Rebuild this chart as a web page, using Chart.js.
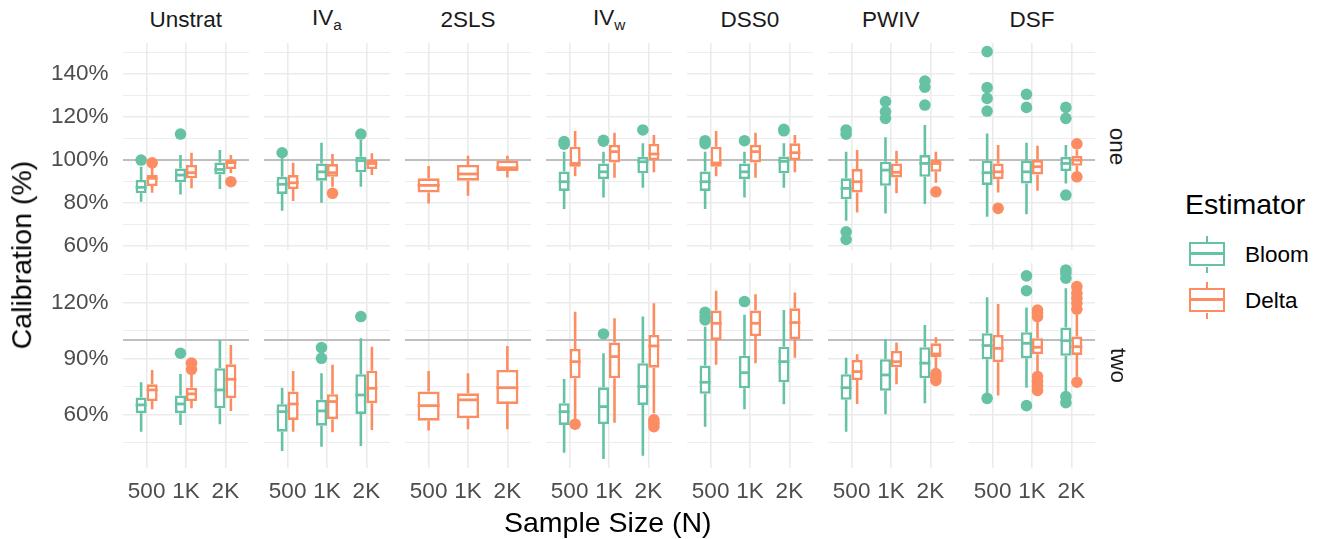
<!DOCTYPE html>
<html>
<head>
<meta charset="utf-8">
<script src="https://cdn.jsdelivr.net/npm/chart.js@4.4.1/dist/chart.umd.min.js"></script>
<style>
  body { margin: 0; width: 1327px; height: 539px; position: relative; overflow: hidden; background: #fff;
         font-family: "Liberation Sans", Arial, sans-serif; }
  canvas { position: absolute; }
  .txt { position: absolute; white-space: nowrap; line-height: 1.2; }
  .txt sub { font-size: 0.68em; vertical-align: -0.3em; }
  .key { position: absolute; width: 36px; height: 24px; box-sizing: border-box; border: 2.5px solid; background: #fff; }
  .key .med { position: absolute; left: 0; right: 0; top: 8px; height: 2.5px; }
  .key .wt, .key .wb { position: absolute; left: 14.5px; width: 2.5px; height: 6px; }
  .key .wt { top: -8.5px; }
  .key .wb { bottom: -8.5px; }
</style>
</head>
<body>
<script>
const FONT = '"Liberation Sans", Arial, sans-serif';
Chart.defaults.font.family = FONT;

const panelNames = ['Unstrat', 'IV_a', '2SLS', 'IV_w', 'DSS0', 'PWIV', 'DSF'];
const rowNames = ['one', 'two'];
const sizeLabels = ['500', '1K', '2K'];
const estimators = ['Bloom', 'Delta'];
const estimatorColors = ['#66c2a5', '#fc8d62'];

const yTicksOne = [60, 70, 80, 90, 100, 110, 120, 130, 140, 150];
const yLabelsOne = [60, 80, 100, 120, 140];
const yTicksTwo = [45, 60, 75, 90, 105, 120, 135];
const yLabelsTwo = [60, 90, 120];
const yRangeOne = [58.1, 154.5];
const yRangeTwo = [31.6, 141.1];

// each box: [lower whisker, q1, median, q3, upper whisker] for 500 / 1K / 2K
const bloomOne = [
  [[80.6, 84.5, 87.3, 90.7, 96.9], [84.0, 89.6, 93.0, 96.1, 102.3], [86.5, 93.3, 95.6, 98.9, 104.7]],
  [[76.4, 84.2, 88.7, 92.2, 101.5], [80.1, 90.4, 94.5, 98.4, 108.1], [87.6, 94.3, 99.7, 101.5, 109.3]],
  null,
  [[77.2, 85.6, 89.9, 94.6, 103.9], [82.6, 91.1, 94.5, 98.4, 103.9], [87.1, 93.8, 99.2, 101.5, 107.8]],
  [[77.2, 85.6, 89.9, 94.6, 103.9], [82.6, 91.1, 94.5, 98.4, 103.9], [87.1, 93.8, 99.4, 101.6, 107.8]],
  [[71.7, 81.7, 86.8, 91.5, 103.9], [75.1, 88.0, 95.3, 99.2, 110.6], [79.5, 92.2, 98.4, 102.3, 116.3]],
  [[73.6, 88.4, 94.1, 99.7, 112.4], [74.7, 89.1, 94.5, 99.7, 108.1], [89.1, 94.9, 98.4, 101.5, 107.0]]
];
const bloomOneOut = [
  [[100], [112.1], []],
  [[103.4], [], [112.1]],
  null,
  [[107.4, 108.6], [108.8, 109.2], [114.0]],
  [[107.6, 109.0], [109.0], [113.6, 114.3]],
  [[112.0, 114.0, 66.6, 63.0], [119.4, 122.5, 127.2], [125.6, 133.9, 136.8]],
  [[122.8, 128.7, 133.7, 150.5], [124.5, 130.6], [119.4, 124.5, 83.7]]
];
const deltaOne = [
  [[84.8, 87.9, 91.5, 93.0, 96.9], [86.8, 91.5, 94.1, 97.7, 103.4], [94.0, 95.8, 98.8, 100.1, 102.3]],
  [[80.9, 86.5, 89.4, 93.0, 98.7], [87.6, 92.2, 94.1, 98.1, 102.8], [93.0, 95.8, 98.4, 100.0, 103.1]],
  [[79.8, 84.9, 88.2, 91.5, 97.2], [83.4, 90.4, 93.5, 97.7, 102.0], [91.9, 94.9, 96.4, 99.7, 102.0]],
  [[92.5, 96.9, 98.4, 106.2, 113.5], [91.8, 98.9, 103.9, 107.0, 112.7], [94.3, 100.0, 102.8, 107.5, 111.6]],
  [[92.5, 96.9, 98.6, 106.2, 113.5], [91.8, 98.9, 103.9, 107.0, 112.7], [94.3, 100.0, 103.4, 107.8, 111.6]],
  [[75.6, 84.9, 89.9, 95.8, 104.7], [84.5, 91.9, 94.3, 98.4, 104.3], [89.4, 94.5, 98.4, 100.0, 103.9]],
  [[84.9, 91.1, 94.5, 98.4, 107.0], [85.7, 93.3, 96.9, 100.0, 106.7], [94.5, 97.3, 100.0, 102.0, 104.7]]
];
const deltaOneOut = [
  [[98.7], [], [89.9]],
  [[], [84.5], []],
  [[], [], []],
  [[], [], []],
  [[], [], []],
  [[], [], [85.2]],
  [[77.5], [], [107.5, 92.2]]
];

const bloomTwo = [
  [[51.0, 60.9, 65.3, 69.2, 77.4], [54.6, 60.9, 65.8, 70.3, 81.8], [55.0, 63.5, 73.3, 84.9, 100.0]],
  [[40.7, 51.0, 61.7, 65.7, 74.5], [43.0, 54.2, 62.1, 68.0, 82.2], [43.4, 60.5, 70.6, 81.7, 100.9]],
  null,
  [[39.8, 54.6, 61.7, 66.2, 79.2], [36.4, 55.1, 64.4, 74.7, 92.9], [38.1, 65.3, 75.1, 87.6, 112.5]],
  [[53.7, 71.2, 77.4, 86.3, 107.1], [63.0, 74.2, 82.5, 91.6, 113.4], [65.7, 77.4, 88.4, 96.4, 116.0]],
  [[51.0, 68.0, 74.5, 81.7, 90.5], [60.3, 72.8, 81.3, 89.7, 100.4], [66.2, 79.5, 87.6, 96.1, 108.0]],
  [[71.5, 89.7, 97.0, 103.6, 122.8], [74.5, 90.2, 98.2, 104.1, 117.3], [72.4, 91.5, 99.6, 106.6, 127.6]]
];
const bloomTwoOut = [
  [[], [92.9], []],
  [[], [90.2, 95.9], [112.5]],
  null,
  [[], [103.2], []],
  [[110.7, 112.5, 114.8], [120.5], []],
  [[], [], []],
  [[68.8], [64.9, 126.3, 134.2], [66.5, 69.7, 133.0, 135.6, 137.4]]
];
const deltaTwo = [
  [[63.0, 67.4, 73.3, 76.3, 84.0], [63.5, 67.4, 71.2, 74.5, 82.5], [62.1, 68.9, 79.0, 87.0, 97.3]],
  [[51.0, 57.3, 65.8, 72.4, 83.4], [50.7, 57.7, 67.1, 71.0, 86.7], [51.9, 66.2, 74.2, 83.6, 96.4]],
  [[51.6, 56.9, 64.9, 72.4, 83.4], [52.3, 58.2, 68.0, 71.5, 82.2], [52.3, 65.8, 74.5, 84.0, 96.8]],
  [[56.5, 79.5, 88.4, 95.2, 115.1], [55.8, 79.5, 91.1, 98.6, 111.6], [60.9, 85.2, 96.8, 102.7, 119.6]],
  [[86.7, 100.0, 108.9, 115.7, 126.3], [87.6, 102.1, 108.9, 115.7, 124.4], [90.5, 100.5, 109.3, 116.9, 125.3]],
  [[65.8, 78.6, 83.1, 89.3, 92.4], [76.3, 85.4, 88.4, 94.1, 98.6], [84.0, 90.8, 92.5, 98.2, 101.4]],
  [[70.3, 88.1, 95.5, 102.7, 119.2], [83.1, 92.4, 96.1, 100.9, 110.7], [80.4, 92.0, 96.4, 101.8, 113.4]]
];
const deltaTwoOut = [
  [[], [84.3, 87.6], []],
  [[], [], []],
  [[], [], []],
  [[55.0], [], [53.7, 55.5, 57.3]],
  [[], [], []],
  [[], [], [78.4, 80.2, 82.0]],
  [[], [73.0, 75.5, 78.0, 80.5, 112.5, 114.5, 116.0], [77.4, 116.4, 119.6, 122.3, 124.9, 128.5]]
];

// layout of the facet grid
const PANEL_X0 = 123, PANEL_STEP = 141, PANEL_W = 126;
const ROW_TOP = [43, 263], ROW_H = [207, 205];
const LINE_W = 2.6;

function addText(html, opts) {
  const el = document.createElement('div');
  el.className = 'txt';
  el.innerHTML = html;
  el.style.fontSize = opts.size + 'px';
  el.style.color = opts.color || '#000';
  document.body.appendChild(el);
  const w = el.offsetWidth, h = el.offsetHeight;
  const left = opts.align === 'left' ? opts.x : opts.x - w / 2;
  el.style.left = left + 'px';
  el.style.top = (opts.y - h / 2) + 'px';
  if (opts.rotate) el.style.transform = 'rotate(' + opts.rotate + 'deg)';
  return el;
}

const boxPlugin = {
  id: 'boxes',
  beforeDatasetsDraw(chart) {
    const { ctx, chartArea, scales: { y } } = chart;
    ctx.save();
    ctx.strokeStyle = '#bebebe';
    ctx.lineWidth = 2;
    const ref = y.getPixelForValue(100);
    ctx.beginPath();
    ctx.moveTo(chartArea.left, ref);
    ctx.lineTo(chartArea.right, ref);
    ctx.stroke();

    chart.data.datasets.forEach((ds, i) => {
      ctx.strokeStyle = ds.borderColor;
      ctx.lineWidth = LINE_W;
      chart.getDatasetMeta(i).data.forEach((bar, j) => {
        const s = ds.stats[j];
        ctx.beginPath();
        ctx.moveTo(bar.x, y.getPixelForValue(s[0]));
        ctx.lineTo(bar.x, y.getPixelForValue(s[1]));
        ctx.moveTo(bar.x, y.getPixelForValue(s[3]));
        ctx.lineTo(bar.x, y.getPixelForValue(s[4]));
        ctx.stroke();
      });
    });
    ctx.restore();
  },
  afterDatasetsDraw(chart) {
    const { ctx, scales: { y } } = chart;
    ctx.save();
    chart.data.datasets.forEach((ds, i) => {
      chart.getDatasetMeta(i).data.forEach((bar, j) => {
        const s = ds.stats[j];
        const my = y.getPixelForValue(s[2]);
        ctx.strokeStyle = ds.borderColor;
        ctx.lineWidth = 2.8;
        ctx.beginPath();
        ctx.moveTo(bar.x - bar.width / 2, my);
        ctx.lineTo(bar.x + bar.width / 2, my);
        ctx.stroke();
        ctx.fillStyle = ds.borderColor;
        ds.outliers[j].forEach(v => {
          ctx.beginPath();
          ctx.arc(bar.x, y.getPixelForValue(v), 5.8, 0, Math.PI * 2);
          ctx.fill();
        });
      });
    });
    ctx.restore();
  }
};

function makePanel(row, col) {
  const isLeft = col === 0, isBottom = row === 1;
  const left = PANEL_X0 + col * PANEL_STEP;
  const padL = isLeft ? left : 0;
  // room under the panel for x labels, or for the lowest y label of the top-left panel
  const padB = isBottom ? 40 : (isLeft ? 16 : 0);
  const canvas = document.createElement('canvas');
  canvas.width = PANEL_W + padL;
  canvas.height = ROW_H[row] + padB;
  canvas.style.left = (left - padL) + 'px';
  canvas.style.top = ROW_TOP[row] + 'px';
  document.body.appendChild(canvas);

  const statSets = row === 0 ? [bloomOne, deltaOne] : [bloomTwo, deltaTwo];
  const outSets = row === 0 ? [bloomOneOut, deltaOneOut] : [bloomTwoOut, deltaTwoOut];
  const yTicks = row === 0 ? yTicksOne : yTicksTwo;
  const yLabels = row === 0 ? yLabelsOne : yLabelsTwo;
  const yRange = row === 0 ? yRangeOne : yRangeTwo;

  const datasets = [];
  estimators.forEach((name, e) => {
    const stats = statSets[e][col];
    if (!stats) return;
    datasets.push({
      label: name,
      data: stats.map((s, i) => ({ x: i + 1, y: [s[1], s[3]] })),
      stats: stats,
      outliers: outSets[e][col],
      backgroundColor: '#ffffff',
      borderColor: estimatorColors[e],
      borderWidth: LINE_W,
      borderSkipped: false,
      categoryPercentage: 0.56,
      barPercentage: 1
    });
  });

  new Chart(canvas, {
    type: 'bar',
    data: { datasets },
    plugins: [boxPlugin],
    options: {
      responsive: false,
      animation: false,
      devicePixelRatio: 1,
      layout: { padding: 0 },
      plugins: { legend: { display: false }, tooltip: { enabled: false } },
      scales: {
        x: {
          type: 'linear',
          min: 0.4,
          max: 3.6,
          offset: false,
          afterBuildTicks: (s) => { s.ticks = [1, 2, 3].map(v => ({ value: v })); },
          afterFit: (s) => { s.height = padB; s.paddingLeft = 0; s.paddingRight = 0; },
          grid: { color: '#ebebeb', lineWidth: 1.6, drawTicks: false, offset: false },
          border: { display: false },
          ticks: {
            display: isBottom,
            padding: 10,
            color: '#4d4d4d',
            font: { size: 22.5 },
            maxRotation: 0,
            autoSkip: false,
            callback: (v) => sizeLabels[v - 1]
          }
        },
        y: {
          min: yRange[0],
          max: yRange[1],
          afterBuildTicks: (s) => { s.ticks = yTicks.map(v => ({ value: v })); },
          afterFit: (s) => { s.width = padL; s.paddingTop = 0; s.paddingBottom = 0; },
          grid: {
            color: '#ebebeb',
            lineWidth: (c) => (c.tick && yLabels.includes(c.tick.value)) ? 1.6 : 0.9,
            drawTicks: false
          },
          border: { display: false },
          ticks: {
            display: isLeft,
            padding: 14.5,
            color: '#4d4d4d',
            font: { size: 22.5 },
            autoSkip: false,
            callback: (v) => yLabels.includes(v) ? v + '%' : ''
          }
        }
      }
    }
  });
}

for (let r = 0; r < 2; r++) {
  for (let c = 0; c < panelNames.length; c++) makePanel(r, c);
}

// facet strips
panelNames.forEach((name, c) => {
  const parts = name.split('_');
  const html = parts.length > 1 ? parts[0] + '<sub>' + parts[1] + '</sub>' : name;
  addText(html, { size: 22.5, color: '#1a1a1a', x: PANEL_X0 + c * PANEL_STEP + PANEL_W / 2, y: 19 });
});
rowNames.forEach((name, r) => {
  addText(name, { size: 22.5, color: '#1a1a1a', x: 1118, y: ROW_TOP[r] + ROW_H[r] / 2, rotate: 90 });
});

// axis titles
addText('Calibration (%)', { size: 28.5, x: 21, y: 255, rotate: -90 });
addText('Sample Size (N)', { size: 28.5, x: 607.5, y: 522 });

// legend
addText('Estimator', { size: 28.5, x: 1185, y: 204, align: 'left' });
estimators.forEach((name, e) => {
  const cy = 254 + e * 46;
  const key = document.createElement('div');
  key.className = 'key';
  key.style.left = '1189px';
  key.style.top = (cy - 12) + 'px';
  key.style.borderColor = estimatorColors[e];
  key.innerHTML = '<div class="med"></div><div class="wt"></div><div class="wb"></div>';
  key.querySelectorAll('div').forEach(d => { d.style.background = estimatorColors[e]; });
  document.body.appendChild(key);
  addText(name, { size: 22.5, x: 1245, y: cy, align: 'left' });
});
</script>
</body>
</html>
